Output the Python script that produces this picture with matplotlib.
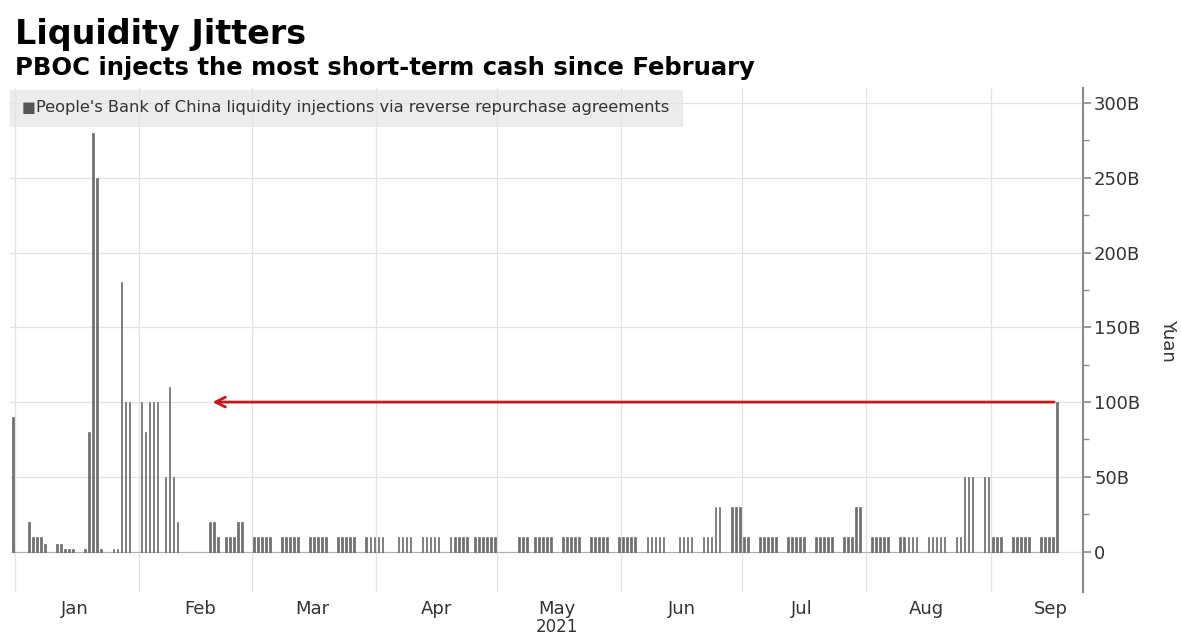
import matplotlib
matplotlib.use('Agg')
import matplotlib.pyplot as plt
import matplotlib.dates as mdates
from matplotlib.patches import Rectangle
from matplotlib.ticker import FixedLocator
import pandas as pd

# each run of working days: first day, then one value (billion yuan) per consecutive day
run_starts = ['2020-12-31', '2021-01-04', '2021-01-11', '2021-01-18', '2021-01-25',
              '2021-02-01', '2021-02-07', '2021-02-18', '2021-02-22',
              '2021-03-01', '2021-03-08', '2021-03-15', '2021-03-22', '2021-03-29',
              '2021-04-06', '2021-04-12', '2021-04-19', '2021-04-25', '2021-05-06',
              '2021-05-10', '2021-05-17', '2021-05-24', '2021-05-31', '2021-06-07',
              '2021-06-15', '2021-06-21', '2021-06-28', '2021-07-05', '2021-07-12',
              '2021-07-19', '2021-07-26', '2021-08-02', '2021-08-09', '2021-08-16',
              '2021-08-23', '2021-08-30', '2021-09-06', '2021-09-13']
run_values = [
    [90],
    [20, 10, 10, 10, 5],
    [5, 5, 2, 2, 2],
    [2, 80, 280, 250, 2],
    [2, 2, 180, 100, 100],
    [100, 80, 100, 100, 100],
    [50, 110, 50, 20],
    [20, 20, 10],
    [10, 10, 10, 20, 20],
    [10, 10, 10, 10, 10],
    [10, 10, 10, 10, 10],
    [10, 10, 10, 10, 10],
    [10, 10, 10, 10, 10],
    [10, 10, 10, 10, 10],
    [10, 10, 10, 10],
    [10, 10, 10, 10, 10],
    [10, 10, 10, 10, 10],
    [10, 10, 10, 10, 10, 10],
    [10, 10, 10],
    [10, 10, 10, 10, 10],
    [10, 10, 10, 10, 10],
    [10, 10, 10, 10, 10],
    [10, 10, 10, 10, 10],
    [10, 10, 10, 10, 10],
    [10, 10, 10, 10],
    [10, 10, 10, 30, 30],
    [30, 30, 30, 10, 10],
    [10, 10, 10, 10, 10],
    [10, 10, 10, 10, 10],
    [10, 10, 10, 10, 10],
    [10, 10, 10, 30, 30],
    [10, 10, 10, 10, 10],
    [10, 10, 10, 10, 10],
    [10, 10, 10, 10, 10],
    [10, 10, 50, 50, 50],
    [50, 50, 10, 10, 10],
    [10, 10, 10, 10, 10],
    [10, 10, 10, 10, 100],
]
month_names = ['Jan', 'Feb', 'Mar', 'Apr', 'May', 'Jun', 'Jul', 'Aug', 'Sep']
y_ticks = [0, 50, 100, 150, 200, 250, 300]
y_labels = ['0', '50B', '100B', '150B', '200B', '250B', '300B']

dates = []
vals = []
for start, vs in zip(run_starts, run_values):
    for i, v in enumerate(vs):
        dates.append(pd.Timestamp(start) + pd.Timedelta(days=i))
        vals.append(v)
dates = pd.DatetimeIndex(dates)
x = mdates.date2num(dates) + 0.5

W, H = 1181, 638
fig = plt.figure(figsize=(W / 100, H / 100), dpi=100)
fig.patch.set_facecolor('white')
ax = fig.add_axes([10 / W, 1 - 592 / H, (1083 - 10) / W, (592 - 88) / H])

x0 = mdates.date2num(pd.Timestamp('2020-12-30 18:00'))
x1 = mdates.date2num(pd.Timestamp('2021-09-24'))
ax.set_xlim(x0, x1)
ax.set_ylim(-27, 310)

# legend strip
ax.add_patch(Rectangle((0, 1 - 0.078), 0.627, 0.075, transform=ax.transAxes,
                       facecolor='#ececec', edgecolor='none', zorder=0))

month_starts = [mdates.date2num(pd.Timestamp(2021, m, 1)) for m in range(1, 10)]
month_mids = [mdates.date2num(pd.Timestamp(2021, m, 16)) for m in range(1, 10)]
for m in month_starts:
    ax.axvline(m, color='#e3e3e3', lw=0.9, zorder=1)
for t in y_ticks:
    ax.axhline(t, color='#e3e3e3', lw=0.9, zorder=1)

ax.plot([x[0], x[-1]], [0, 0], color='#b0b0b0', lw=0.8, zorder=2)
ax.bar(x, vals, width=0.42, color='#6f6f6f', edgecolor='#5a5a5a',
       linewidth=0.4, zorder=3)

ax.annotate('', xy=(mdates.date2num(pd.Timestamp('2021-02-18 12:00')), 100),
            xytext=(x[-1], 100),
            arrowprops=dict(arrowstyle='->,head_length=0.7,head_width=0.35',
                            color='#c8161d', lw=2), zorder=4)

for s in ['top', 'left', 'bottom']:
    ax.spines[s].set_visible(False)
ax.spines['right'].set_color('#8a8a8a')
ax.spines['right'].set_linewidth(1.5)

ax.yaxis.tick_right()
ax.yaxis.set_label_position('right')
ax.set_yticks(y_ticks)
ax.set_yticklabels(y_labels)
ax.yaxis.set_minor_locator(FixedLocator([25, 75, 125, 175, 225, 275]))
ax.tick_params(axis='y', which='major', direction='out', length=6, width=1.2,
               color='#8a8a8a', labelsize=13, labelcolor='#333333', pad=2)
ax.tick_params(axis='y', which='minor', direction='out', length=4, width=1,
               color='#8a8a8a')
ax.set_ylabel('Yuan', rotation=270, fontsize=13, color='#333333', labelpad=26)

ax.xaxis.set_major_locator(FixedLocator(month_starts))
ax.xaxis.set_minor_locator(FixedLocator(month_mids))
ax.set_xticklabels([], minor=False)
ax.set_xticklabels(month_names, minor=True)
ax.tick_params(axis='x', which='both', length=0, labelsize=13,
               labelcolor='#333333', pad=6)

# year label under May, kept inside the canvas
may_x = ax.transData.transform((mdates.date2num(pd.Timestamp('2021-05-16')), 0))[0]
fig.text(may_x / W, 2 / H, '2021', ha='center', va='bottom',
         fontsize=12, color='#333333')

ax.text(0.011, 1 - 0.039, '\u25a0', transform=ax.transAxes, va='center',
        ha='left', fontsize=10.5, color='#555555')
ax.text(0.024, 1 - 0.039,
        "People's Bank of China liquidity injections via reverse repurchase agreements",
        transform=ax.transAxes, va='center', ha='left', fontsize=11.7,
        color='#333333')

fig.text(15 / W, 1 - 44 / H, 'Liquidity Jitters', fontsize=24,
         fontweight='bold', color='black', va='baseline', ha='left')
fig.text(15 / W, 1 - 75 / H, 'PBOC injects the most short-term cash since February',
         fontsize=17.5, fontweight='bold', color='black', va='baseline', ha='left')

fig.savefig('out.png', dpi=100, facecolor='white')
